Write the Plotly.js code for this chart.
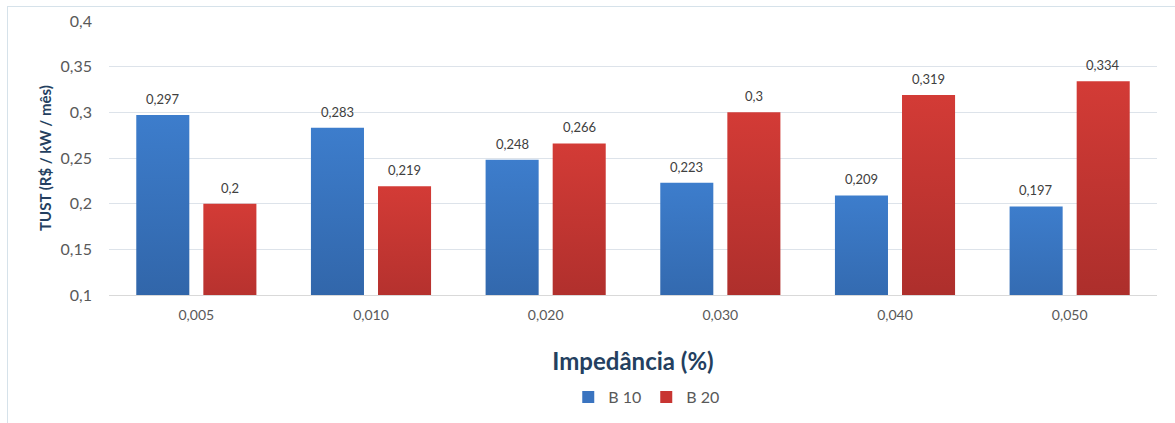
<!DOCTYPE html>
<html>
<head>
<meta charset="utf-8">
<script src="https://cdn.plot.ly/plotly-3.0.1.min.js"></script>
<style>
  html, body { margin: 0; padding: 0; background: #ffffff; }
  #chart { width: 1175px; height: 423px; position: relative; }
  #frame { position: absolute; left: 7px; top: 6px; width: 1180px; height: 430px;
           border-left: 1px solid #d6e2ea; border-top: 1px solid #d6e2ea; pointer-events: none; }
</style>
</head>
<body>
<div id="chart"></div>
<div id="frame"></div>
<script>
// Impedance categories and TUST values for the two buses
const categories = ['0,005', '0,010', '0,020', '0,030', '0,040', '0,050'];
const b10 = [0.297, 0.283, 0.248, 0.223, 0.209, 0.197];
const b20 = [0.2, 0.219, 0.266, 0.3, 0.319, 0.334];
const yTicks = [0.1, 0.15, 0.2, 0.25, 0.3, 0.35, 0.4];

const fmt = v => String(v).replace('.', ',');
const FONT = 'Lato, "Open Sans", sans-serif';
const labelFont = { family: FONT, size: 13, color: '#404040' };

const traces = [
  { type: 'bar', name: 'B 10', x: categories, y: b10, marker: { color: '#3a74c0' } },
  { type: 'bar', name: 'B 20', x: categories, y: b20, marker: { color: '#c83532' } }
];

// value labels above each bar (offset left/right to sit over the grouped bars)
const annotations = [];
[[b10, -33.5], [b20, 33.5]].forEach(([vals, dx]) => {
  vals.forEach((v, i) => {
    annotations.push({ x: categories[i], y: v, xref: 'x', yref: 'y', text: fmt(v),
      showarrow: false, xshift: dx, yshift: 6, yanchor: 'bottom', font: labelFont });
  });
});

const layout = {
  width: 1175, height: 423,
  margin: { l: 109, r: 18, t: 21, b: 128 },
  paper_bgcolor: '#ffffff', plot_bgcolor: '#ffffff',
  separators: ',.',
  barmode: 'group', bargap: 0.232, bargroupgap: 0.209,
  font: { family: FONT, color: '#595959' },
  showlegend: true,
  legend: { orientation: 'h', x: 0.55, xanchor: 'center', xref: 'container', y: 0.061, yref: 'container', yanchor: 'middle',
            font: { size: 16, color: '#595959' }, itemwidth: 30, traceorder: 'normal' },
  annotations: annotations,
  xaxis: {
    type: 'category', showgrid: false, zeroline: false, showline: true, linecolor: '#d9d9d9',
    ticks: '', tickfont: { size: 14, color: '#595959' }, ticklabelstandoff: 7,
    title: { text: '<b>Impedância (%)</b>', font: { size: 24, color: '#243f60' }, standoff: 31 }
  },
  yaxis: {
    range: [0.1, 0.4], tickvals: yTicks, ticks: '', showline: false, zeroline: false,
    gridcolor: '#dde3ea', gridwidth: 1, tickfont: { size: 16, color: '#595959' }, ticklabelstandoff: 16,
    title: { text: '<b>TUST (R$ / kW / mês)</b>', font: { size: 15, color: '#243f60' }, standoff: 5 }
  }
};

Plotly.newPlot('chart', traces, layout, { staticPlot: true, displayModeBar: false }).then(gd => {
  // vertical shading on each bar, lighter at top
  const svg = gd.querySelector('svg.main-svg');
  const ns = 'http://www.w3.org/2000/svg';
  let defs = svg.querySelector('defs');
  if (!defs) { defs = document.createElementNS(ns, 'defs'); svg.insertBefore(defs, svg.firstChild); }
  const grads = { gB10: ['#3d7dcc', '#2b5a98'], gB20: ['#d33b36', '#9c2927'] };
  Object.keys(grads).forEach(id => {
    const g = document.createElementNS(ns, 'linearGradient');
    g.setAttribute('id', id); g.setAttribute('x1', '0'); g.setAttribute('y1', '0');
    g.setAttribute('x2', '0'); g.setAttribute('y2', '1');
    grads[id].forEach((c, i) => {
      const s = document.createElementNS(ns, 'stop');
      s.setAttribute('offset', i ? '1' : '0'); s.setAttribute('stop-color', c);
      g.appendChild(s);
    });
    defs.appendChild(g);
  });
  const ids = ['gB10', 'gB20'];
  gd.querySelectorAll('.barlayer .trace').forEach((t, i) => {
    t.querySelectorAll('path').forEach(p => { p.style.fill = 'url(#' + ids[i] + ')'; });
  });
});
</script>
</body>
</html>
